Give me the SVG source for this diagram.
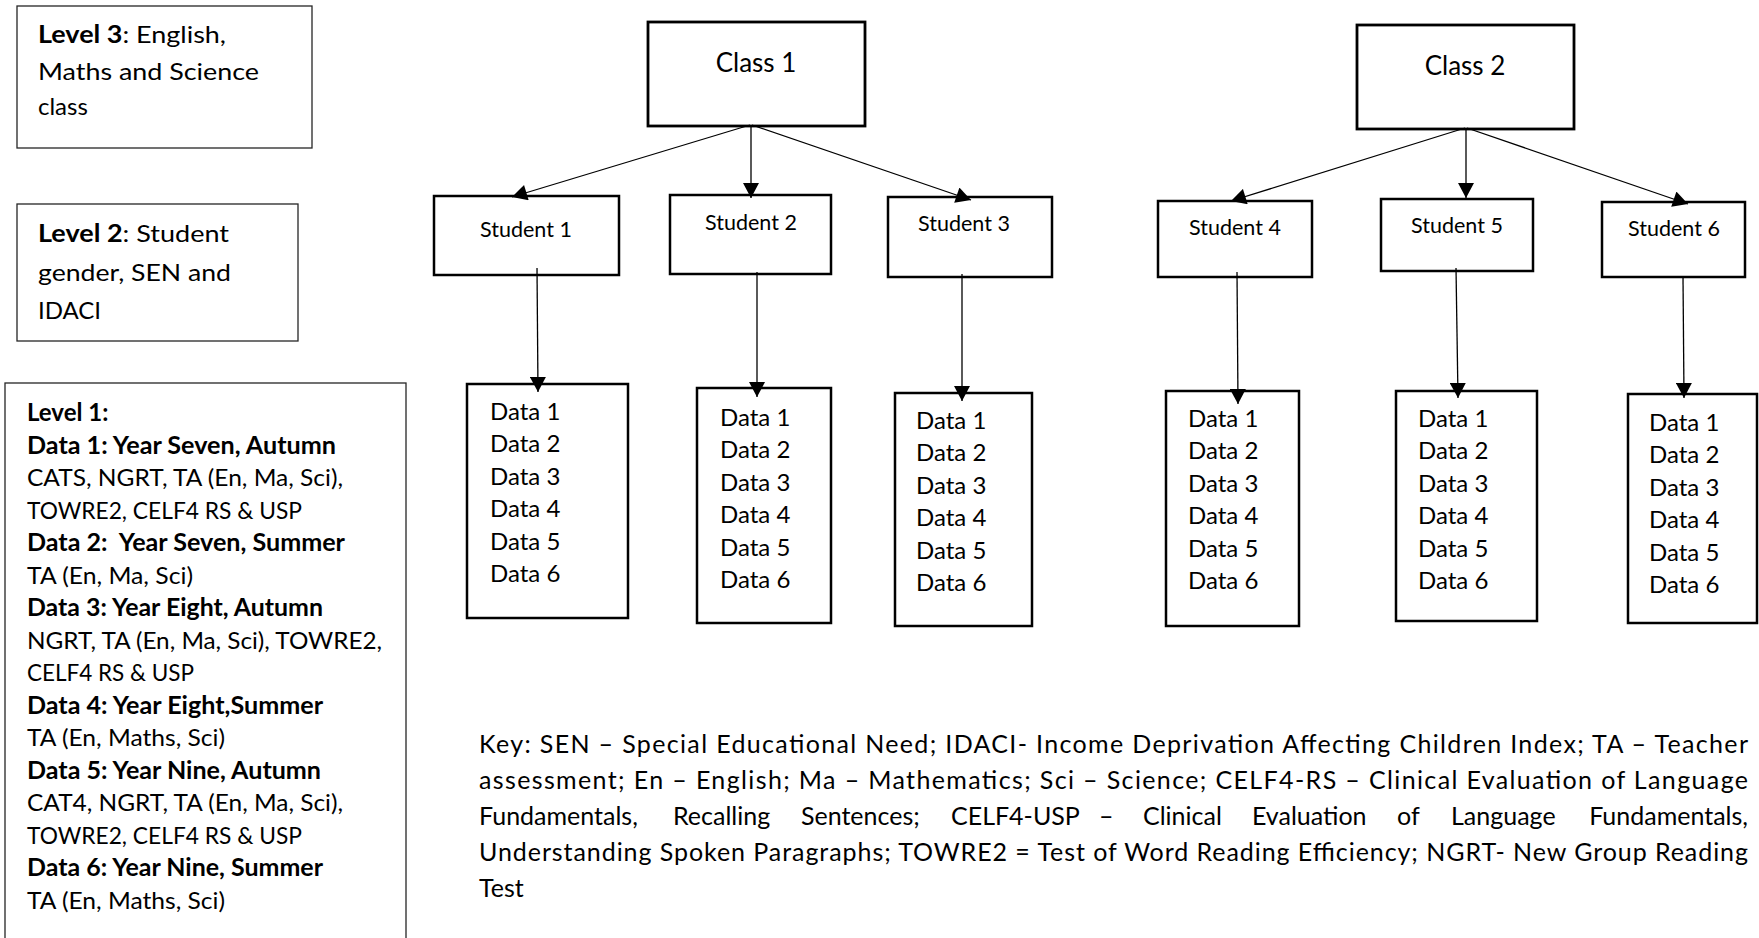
<svg xmlns="http://www.w3.org/2000/svg" width="1759" height="938" viewBox="0 0 1759 938">
<style>
 text { font-family: Lato, "Open Sans", "Liberation Sans", sans-serif; fill: #000; }
 .lvl { fill: #fff; stroke: #262626; stroke-width: 1.3; }
 .cls { fill: #fff; stroke: #000; stroke-width: 2.8; }
 .box { fill: #fff; stroke: #000; stroke-width: 2.5; }
 .lt { font-size: 24px; }
 .b { font-weight: bold; }
 .ct { font-size: 26px; text-anchor: middle; }
 .st { font-size: 21.5px; text-anchor: middle; }
 .dt { font-size: 24px; }
 .key { font-size: 25px; }
 .conn line { stroke: #000; stroke-width: 1.3; marker-end: url(#ah); }
</style>
<defs>
 <marker id="ah" markerUnits="userSpaceOnUse" markerWidth="16" markerHeight="16" viewBox="0 0 15 16" refX="15" refY="8" orient="auto">
  <path d="M0,0 L15,8 L0,16 z" fill="#000"/>
 </marker>
</defs>
<rect x="0" y="0" width="1759" height="938" fill="#fff"/>

<g id="level3">
 <rect class="lvl" x="17" y="6" width="295" height="142"/>
 <text class="lt" x="38" y="43" textLength="188" lengthAdjust="spacingAndGlyphs"><tspan class="b">Level 3</tspan>: English,</text>
 <text class="lt" x="38" y="80" textLength="221" lengthAdjust="spacingAndGlyphs">Maths and Science</text>
 <text class="lt" x="38" y="115">class</text>
</g>

<g id="level2">
 <rect class="lvl" x="17" y="204" width="281" height="137"/>
 <text class="lt" x="38" y="242" textLength="191" lengthAdjust="spacingAndGlyphs"><tspan class="b">Level 2</tspan>: Student</text>
 <text class="lt" x="38" y="281" textLength="193" lengthAdjust="spacingAndGlyphs">gender, SEN and</text>
 <text class="lt" x="38" y="319">IDACI</text>
</g>

<g id="level1">
 <rect class="lvl" x="5" y="383" width="401" height="570"/>
 <text class="lt b" x="27" y="421">Level 1:</text>
 <text class="lt b" x="27" y="453.5" textLength="309" lengthAdjust="spacingAndGlyphs">Data 1: Year Seven, Autumn</text>
 <text class="lt" x="27" y="486" textLength="316" lengthAdjust="spacingAndGlyphs">CATS, NGRT, TA (En, Ma, Sci),</text>
 <text class="lt" x="27" y="518.5" textLength="275" lengthAdjust="spacingAndGlyphs">TOWRE2, CELF4 RS &amp; USP</text>
 <text class="lt b" x="27" y="551" textLength="318" lengthAdjust="spacingAndGlyphs">Data 2:&#160; Year Seven, Summer</text>
 <text class="lt" x="27" y="583.5" textLength="166" lengthAdjust="spacingAndGlyphs">TA (En, Ma, Sci)</text>
 <text class="lt b" x="27" y="616" textLength="296" lengthAdjust="spacingAndGlyphs">Data 3: Year Eight, Autumn</text>
 <text class="lt" x="27" y="648.5" textLength="355" lengthAdjust="spacingAndGlyphs">NGRT, TA (En, Ma, Sci), TOWRE2,</text>
 <text class="lt" x="27" y="681" textLength="167" lengthAdjust="spacingAndGlyphs">CELF4 RS &amp; USP</text>
 <text class="lt b" x="27" y="713.5" textLength="296" lengthAdjust="spacingAndGlyphs">Data 4: Year Eight,Summer</text>
 <text class="lt" x="27" y="746" textLength="198" lengthAdjust="spacingAndGlyphs">TA (En, Maths, Sci)</text>
 <text class="lt b" x="27" y="778.5" textLength="294" lengthAdjust="spacingAndGlyphs">Data 5: Year Nine, Autumn</text>
 <text class="lt" x="27" y="811" textLength="316" lengthAdjust="spacingAndGlyphs">CAT4, NGRT, TA (En, Ma, Sci),</text>
 <text class="lt" x="27" y="843.5" textLength="275" lengthAdjust="spacingAndGlyphs">TOWRE2, CELF4 RS &amp; USP</text>
 <text class="lt b" x="27" y="876" textLength="296" lengthAdjust="spacingAndGlyphs">Data 6: Year Nine, Summer</text>
 <text class="lt" x="27" y="908.5" textLength="198" lengthAdjust="spacingAndGlyphs">TA (En, Maths, Sci)</text>
</g>

<g id="class1">
 <rect class="cls" x="648" y="22" width="217" height="104"/>
 <text class="ct" x="756" y="72">Class 1</text>
</g>
<g id="class2">
 <rect class="cls" x="1357" y="25" width="217" height="104"/>
 <text class="ct" x="1465" y="75">Class 2</text>
</g>

<g id="student1">
 <rect class="box" x="434" y="196" width="185" height="79"/>
 <text class="st" x="526" y="237">Student 1</text>
</g>
<g id="student2">
 <rect class="box" x="670" y="195" width="161" height="79"/>
 <text class="st" x="751" y="230">Student 2</text>
</g>
<g id="student3">
 <rect class="box" x="888" y="197" width="164" height="80"/>
 <text class="st" x="964" y="231">Student 3</text>
</g>
<g id="student4">
 <rect class="box" x="1158" y="201" width="154" height="76"/>
 <text class="st" x="1235" y="235">Student 4</text>
</g>
<g id="student5">
 <rect class="box" x="1381" y="199" width="152" height="72"/>
 <text class="st" x="1457" y="233">Student 5</text>
</g>
<g id="student6">
 <rect class="box" x="1602" y="202" width="143" height="75"/>
 <text class="st" x="1674" y="236">Student 6</text>
</g>

<g id="data1">
 <rect class="box" x="467" y="384" width="161" height="234"/>
 <text class="dt" y="420"><tspan x="490">Data 1</tspan><tspan x="490" dy="32.4">Data 2</tspan><tspan x="490" dy="32.4">Data 3</tspan><tspan x="490" dy="32.4">Data 4</tspan><tspan x="490" dy="32.4">Data 5</tspan><tspan x="490" dy="32.4">Data 6</tspan></text>
</g>
<g id="data2">
 <rect class="box" x="697" y="388" width="134" height="235"/>
 <text class="dt" y="426"><tspan x="720">Data 1</tspan><tspan x="720" dy="32.4">Data 2</tspan><tspan x="720" dy="32.4">Data 3</tspan><tspan x="720" dy="32.4">Data 4</tspan><tspan x="720" dy="32.4">Data 5</tspan><tspan x="720" dy="32.4">Data 6</tspan></text>
</g>
<g id="data3">
 <rect class="box" x="895" y="393" width="137" height="233"/>
 <text class="dt" y="429"><tspan x="916">Data 1</tspan><tspan x="916" dy="32.4">Data 2</tspan><tspan x="916" dy="32.4">Data 3</tspan><tspan x="916" dy="32.4">Data 4</tspan><tspan x="916" dy="32.4">Data 5</tspan><tspan x="916" dy="32.4">Data 6</tspan></text>
</g>
<g id="data4">
 <rect class="box" x="1166" y="391" width="133" height="235"/>
 <text class="dt" y="427"><tspan x="1188">Data 1</tspan><tspan x="1188" dy="32.4">Data 2</tspan><tspan x="1188" dy="32.4">Data 3</tspan><tspan x="1188" dy="32.4">Data 4</tspan><tspan x="1188" dy="32.4">Data 5</tspan><tspan x="1188" dy="32.4">Data 6</tspan></text>
</g>
<g id="data5">
 <rect class="box" x="1396" y="391" width="141" height="230"/>
 <text class="dt" y="427"><tspan x="1418">Data 1</tspan><tspan x="1418" dy="32.4">Data 2</tspan><tspan x="1418" dy="32.4">Data 3</tspan><tspan x="1418" dy="32.4">Data 4</tspan><tspan x="1418" dy="32.4">Data 5</tspan><tspan x="1418" dy="32.4">Data 6</tspan></text>
</g>
<g id="data6">
 <rect class="box" x="1628" y="394" width="129" height="229"/>
 <text class="dt" y="431"><tspan x="1649">Data 1</tspan><tspan x="1649" dy="32.4">Data 2</tspan><tspan x="1649" dy="32.4">Data 3</tspan><tspan x="1649" dy="32.4">Data 4</tspan><tspan x="1649" dy="32.4">Data 5</tspan><tspan x="1649" dy="32.4">Data 6</tspan></text>
</g>

<g id="connectors" class="conn">
 <line x1="750" y1="125" x2="512" y2="197"/>
 <line x1="751" y1="125" x2="751" y2="198"/>
 <line x1="752" y1="125" x2="971" y2="200"/>
 <line x1="1465" y1="128" x2="1231" y2="201"/>
 <line x1="1466" y1="128" x2="1466" y2="198"/>
 <line x1="1467" y1="128" x2="1688" y2="204"/>
 <line x1="537" y1="268" x2="538" y2="392"/>
 <line x1="757" y1="272" x2="757" y2="397"/>
 <line x1="962" y1="274" x2="962" y2="401"/>
 <line x1="1237" y1="272" x2="1238" y2="404"/>
 <line x1="1456" y1="268" x2="1458" y2="398"/>
 <line x1="1683" y1="277" x2="1684" y2="398"/>
</g>

<g id="key">
 <text class="key" x="479" y="753" textLength="1269" lengthAdjust="spacing">Key: SEN – Special Educational Need; IDACI- Income Deprivation Affecting Children Index; TA – Teacher</text>
 <text class="key" x="479" y="789" textLength="1269" lengthAdjust="spacing">assessment; En – English; Ma – Mathematics; Sci – Science; CELF4-RS – Clinical Evaluation of Language</text>
 <text class="key" y="825"><tspan x="479">Fundamentals,</tspan><tspan x="673">Recalling</tspan><tspan x="801">Sentences;</tspan><tspan x="951">CELF4-USP</tspan><tspan x="1099">–</tspan><tspan x="1143">Clinical</tspan><tspan x="1252">Evaluation</tspan><tspan x="1397">of</tspan><tspan x="1451">Language</tspan></text>
 <text class="key" x="1748" y="825" text-anchor="end">Fundamentals,</text>
 <text class="key" x="479" y="861" textLength="1269" lengthAdjust="spacing">Understanding Spoken Paragraphs; TOWRE2 = Test of Word Reading Efficiency; NGRT- New Group Reading</text>
 <text class="key" x="479" y="897">Test</text>
</g>
</svg>
